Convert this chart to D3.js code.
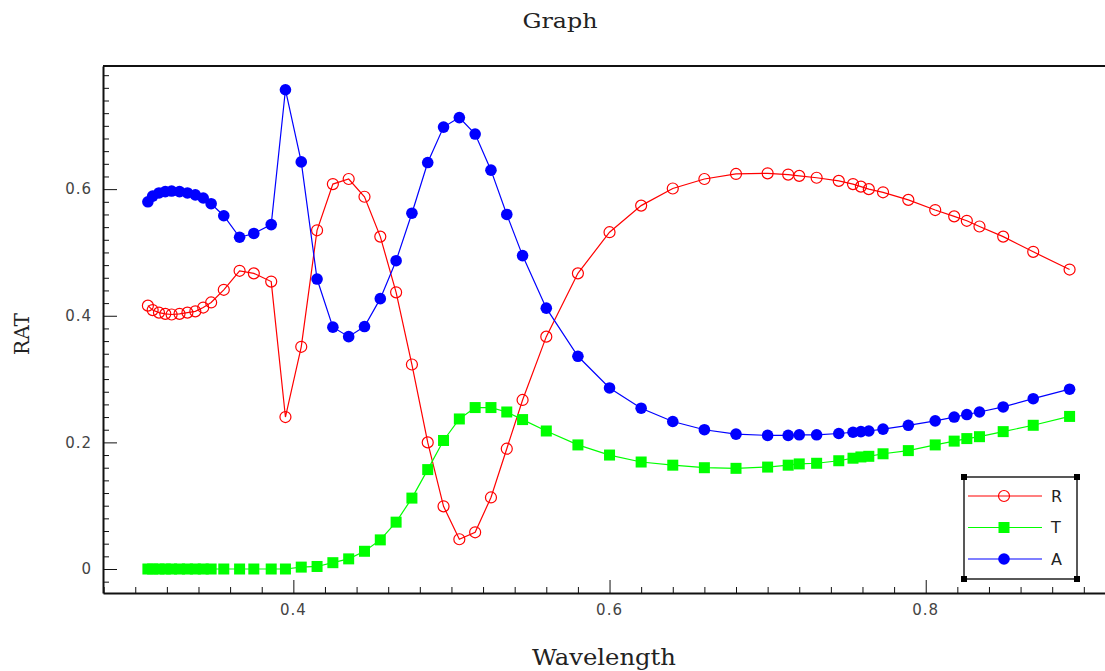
<!DOCTYPE html>
<html>
<head>
<meta charset="utf-8">
<script src="https://cdn.jsdelivr.net/npm/d3@7"></script>
<style>
  body { margin: 0; background: #fff; }
  svg { display: block; }
</style>
</head>
<body>
<div id="graph"></div>
<script>
// datos
var wavelength = [0.308, 0.311, 0.315, 0.319, 0.323, 0.328, 0.333, 0.338, 0.343, 0.348,
  0.356, 0.366, 0.375, 0.386, 0.395, 0.405, 0.415, 0.425, 0.435, 0.445,
  0.455, 0.465, 0.475, 0.485, 0.495, 0.505, 0.515, 0.525, 0.535, 0.545,
  0.56, 0.58, 0.60, 0.62, 0.64, 0.66, 0.68, 0.70, 0.713, 0.72,
  0.731, 0.745, 0.754, 0.759, 0.764, 0.773, 0.789, 0.806, 0.818, 0.826,
  0.834, 0.849, 0.868, 0.891];

var seriesR = [0.416, 0.409, 0.405, 0.403, 0.402, 0.403, 0.405, 0.407, 0.413, 0.421,
  0.441, 0.471, 0.467, 0.454, 0.240, 0.351, 0.535, 0.608, 0.616, 0.588,
  0.525, 0.437, 0.323, 0.200, 0.099, 0.047, 0.058, 0.113, 0.190, 0.267,
  0.367, 0.467, 0.532, 0.574, 0.601, 0.616, 0.624, 0.625, 0.623, 0.621,
  0.618, 0.613, 0.608, 0.604, 0.600, 0.595, 0.583, 0.567, 0.557, 0.550,
  0.541, 0.525, 0.501, 0.473];

var seriesT = [0, 0, 0, 0, 0, 0, 0, 0, 0, 0,
  0, 0, 0, 0, 0, 0.003, 0.004, 0.010, 0.016, 0.028,
  0.046, 0.074, 0.112, 0.157, 0.203, 0.237, 0.255, 0.255, 0.248, 0.236,
  0.218, 0.196, 0.180, 0.169, 0.164, 0.160, 0.159, 0.161, 0.164, 0.166,
  0.167, 0.171, 0.175, 0.177, 0.178, 0.182, 0.187, 0.196, 0.202, 0.206,
  0.209, 0.217, 0.227, 0.241];

var seriesA = [0.580, 0.589, 0.594, 0.596, 0.597, 0.596, 0.594, 0.591, 0.586, 0.577,
  0.558, 0.524, 0.530, 0.544, 0.757, 0.643, 0.458, 0.382, 0.367, 0.383,
  0.427, 0.487, 0.562, 0.642, 0.698, 0.713, 0.687, 0.630, 0.560, 0.495,
  0.412, 0.336, 0.286, 0.254, 0.233, 0.220, 0.213, 0.211, 0.211, 0.212,
  0.212, 0.214, 0.216, 0.217, 0.218, 0.221, 0.227, 0.234, 0.240, 0.244,
  0.248, 0.256, 0.269, 0.284];

var seriesNames = ["R", "T", "A"];
var xTickLabels = [0.4, 0.6, 0.8];
var yTickLabels = [0, 0.2, 0.4, 0.6];

// tamaño
var width = 1105,
    height = 671;
var margin = {top: 66, right: 0, bottom: 78, left: 103};

var svg = d3.select("#graph")
  .append("svg")
    .attr("width", width)
    .attr("height", height);

var x = d3.scaleLinear()
  .domain([0.2796, 0.9134])
  .range([margin.left, width - margin.right]);

var y = d3.scaleLinear()
  .domain([-0.0379, 0.7945])
  .range([height - margin.bottom, margin.top]);

var colors = {R: "#ff0000", T: "#00ff00", A: "#0000ff"};
var values = {R: seriesR, T: seriesT, A: seriesA};

// frame: top line + axes
svg.append("line")
  .attr("x1", margin.left).attr("x2", width)
  .attr("y1", margin.top).attr("y2", margin.top)
  .attr("stroke", "#111").attr("stroke-width", 2);

// minor ticks every 0.02, big ones every 0.2
var xMinor = d3.range(0.28, 0.92, 0.02).map(function(d){ return +d.toFixed(2); });
var yMinor = d3.range(-0.02, 0.79, 0.02).map(function(d){ return +d.toFixed(2); });

function isMajor(v) { return Math.abs(v * 5 - Math.round(v * 5)) < 1e-6; }

var xAxis = svg.append("g")
  .attr("transform", "translate(0," + (height - margin.bottom) + ")")
  .call(d3.axisBottom(x).tickValues(xMinor).tickSizeInner(0).tickSizeOuter(0).tickFormat(""));
xAxis.select(".domain").attr("stroke", "#111").attr("stroke-width", 2);
xAxis.selectAll(".tick line")
  .attr("y2", function(d){ return isMajor(d) ? -13 : -6; })
  .attr("stroke", "#111");

svg.append("g").selectAll("text")
  .data(xTickLabels)
  .enter().append("text")
    .attr("x", function(d){ return x(d); })
    .attr("y", height - margin.bottom + 22)
    .attr("text-anchor", "middle")
    .style("font-family", "DejaVu Sans, sans-serif")
    .style("font-size", "15px")
    .style("letter-spacing", "1px")
    .style("fill", "#444")
    .text(function(d){ return d3.format(".1f")(d); });

var yAxis = svg.append("g")
  .attr("transform", "translate(" + margin.left + ",0)")
  .call(d3.axisLeft(y).tickValues(yMinor).tickSizeInner(0).tickSizeOuter(0).tickFormat(""));
yAxis.select(".domain").attr("stroke", "#111").attr("stroke-width", 2);
yAxis.selectAll(".tick line")
  .attr("x2", function(d){ return isMajor(d) ? 14 : 6; })
  .attr("stroke", "#111");

svg.append("g").selectAll("text")
  .data(yTickLabels)
  .enter().append("text")
    .attr("x", margin.left - 11)
    .attr("y", function(d){ return y(d); })
    .attr("dy", "0.35em")
    .attr("text-anchor", "end")
    .style("font-family", "DejaVu Sans, sans-serif")
    .style("font-size", "15px")
    .style("letter-spacing", "1px")
    .style("fill", "#444")
    .text(function(d){ return d === 0 ? "0" : d3.format(".1f")(d); });

// titulos (stretched a bit, the original font is wider)
svg.append("text")
  .attr("x", 560).attr("y", 28)
  .attr("text-anchor", "middle")
  .attr("textLength", 75).attr("lengthAdjust", "spacingAndGlyphs")
  .style("font-family", "DejaVu Serif, serif")
  .style("font-size", "20px")
  .style("fill", "#222")
  .text("Graph");

svg.append("text")
  .attr("x", 604).attr("y", 665)
  .attr("text-anchor", "middle")
  .attr("textLength", 144).attr("lengthAdjust", "spacingAndGlyphs")
  .style("font-family", "DejaVu Serif, serif")
  .style("font-size", "22px")
  .style("fill", "#222")
  .text("Wavelength");

svg.append("text")
  .attr("transform", "translate(29,334) rotate(-90)")
  .attr("text-anchor", "middle")
  .attr("textLength", 42).attr("lengthAdjust", "spacingAndGlyphs")
  .style("font-family", "DejaVu Serif, serif")
  .style("font-size", "21px")
  .style("fill", "#222")
  .text("RAT");

// lines + markers
var line = d3.line()
  .x(function(d){ return x(d[0]); })
  .y(function(d){ return y(d[1]); });

function drawMarker(g, name, cx, cy) {
  if (name === "R") {
    g.append("circle").attr("cx", cx).attr("cy", cy).attr("r", 5.5)
      .attr("fill", "none").attr("stroke", colors.R).attr("stroke-width", 1.2);
  } else if (name === "T") {
    g.append("rect").attr("x", cx - 5.5).attr("y", cy - 5.5)
      .attr("width", 11).attr("height", 11).attr("fill", colors.T);
  } else {
    g.append("circle").attr("cx", cx).attr("cy", cy).attr("r", 5.8)
      .attr("fill", colors.A);
  }
}

seriesNames.forEach(function(name) {
  var pts = wavelength.map(function(w, i){ return [w, values[name][i]]; });
  var g = svg.append("g");
  g.append("path")
    .datum(pts)
    .attr("d", line)
    .attr("fill", "none")
    .attr("stroke", colors[name])
    .attr("stroke-width", 1.2);
  pts.forEach(function(p){ drawMarker(g, name, x(p[0]), y(p[1])); });
});

// Handmade legend
var lg = svg.append("g").attr("transform", "translate(964,477)");
lg.append("rect").attr("width", 113).attr("height", 102)
  .attr("fill", "#fff").attr("stroke", "#222").attr("stroke-width", 1.5);
[[0, 0], [113, 0], [0, 102], [113, 102]].forEach(function(c){
  lg.append("rect").attr("x", c[0] - 3).attr("y", c[1] - 3)
    .attr("width", 6).attr("height", 6).attr("fill", "#000");
});
seriesNames.forEach(function(name, i) {
  var cy = 19 + i * 31.5;
  lg.append("line").attr("x1", 4).attr("x2", 78).attr("y1", cy).attr("y2", cy)
    .attr("stroke", colors[name]).attr("stroke-width", 1.2);
  drawMarker(lg, name, 40, cy);
  lg.append("text").attr("x", 87).attr("y", cy).attr("dy", "0.36em")
    .style("font-family", "DejaVu Sans, sans-serif")
    .style("font-size", "16px")
    .style("fill", "#222")
    .text(name);
});
</script>
</body>
</html>
